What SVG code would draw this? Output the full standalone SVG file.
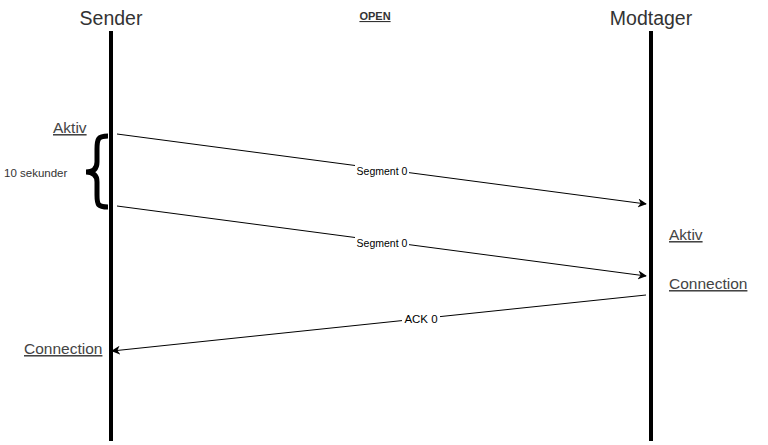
<svg xmlns="http://www.w3.org/2000/svg" width="768" height="445" viewBox="0 0 768 445">
<defs>
<marker id="arr" viewBox="0 0 10 10" refX="9" refY="5" markerWidth="9" markerHeight="9" markerUnits="userSpaceOnUse" orient="auto">
<path d="M0,0 L10,5 L0,10 L3,5 Z" fill="#000"/>
</marker>
<style>
text{font-family:"Liberation Sans",Arial,sans-serif;fill:#333}
.title{font-size:19.5px;text-anchor:middle}
.state{font-size:15.5px;text-decoration:underline;fill:#444}
.lbl{font-size:10.5px;text-anchor:middle;fill:#000}
.life{stroke:#000;stroke-width:4}
.msg{stroke:#000;stroke-width:1;fill:none;marker-end:url(#arr)}
.bg{fill:#fff}
</style>
</defs>
<rect width="768" height="445" fill="#fff"/>
<g id="sender">
<line class="life" x1="111" y1="31" x2="111" y2="441"/>
<text class="title" x="111" y="25">Sender</text>
</g>
<g id="modtager">
<line class="life" x1="651" y1="31" x2="651" y2="441"/>
<text class="title" x="651" y="25">Modtager</text>
</g>
<g id="open">
<text x="375" y="20" style="font-size:11px;font-weight:bold;text-decoration:underline;text-anchor:middle">OPEN</text>
</g>
<g id="sender-aktiv"><text class="state" x="53" y="133">Aktiv</text></g>
<g id="sender-connection"><text class="state" x="24" y="354">Connection</text></g>
<g id="modtager-aktiv"><text class="state" x="669" y="240">Aktiv</text></g>
<g id="modtager-connection"><text class="state" x="669" y="289">Connection</text></g>
<g id="brace">
<path d="M108,136 C98,136 97,139 97,149 L97,162 C97,169 93,172 86,172 C93,172 97,175 97,182 L97,195 C97,205 98,207 108,207" fill="none" stroke="#000" stroke-width="5"/>
<text x="4" y="177" style="font-size:11.5px">10 sekunder</text>
</g>
<g id="connectors">
<line class="msg" x1="117" y1="134" x2="646" y2="204"/>
<line class="msg" x1="117" y1="206" x2="646" y2="276"/>
<line class="msg" x1="646" y1="295" x2="112" y2="351"/>
<rect class="bg" x="355" y="165" width="54" height="12"/>
<text class="lbl" x="382" y="175">Segment 0</text>
<rect class="bg" x="355" y="237" width="54" height="12"/>
<text class="lbl" x="382" y="247">Segment 0</text>
<rect class="bg" x="402" y="313" width="38" height="13"/>
<text class="lbl" x="421" y="323" style="font-size:11.5px">ACK 0</text>
</g>
</svg>
